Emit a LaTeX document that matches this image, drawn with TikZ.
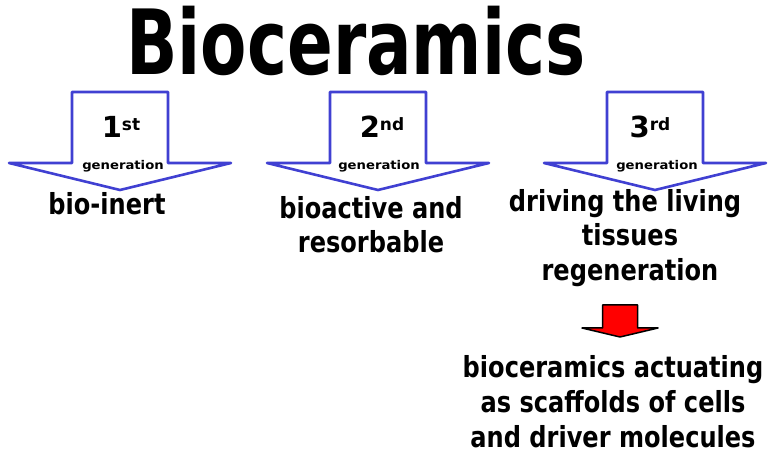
\documentclass[tikz,border=0pt]{standalone}
\usepackage{fontspec}
\setmainfont{DejaVu Sans}
\usepackage{graphicx}
\definecolor{arrowblue}{RGB}{64,64,210}
\definecolor{arrowred}{RGB}{255,0,0}
\newcommand\genshape[2]{%
  \draw[genarrow] ({#1-48},92) -- ({#1+48},92) -- ({#1+48},163) -- ({#1+111},163)
    -- (#1,190) coordinate (#2) -- ({#1-111},163) -- ({#1-48},163) -- cycle;}
\newcommand\bodytext[1]{\scalebox{0.83}[1]{#1}}
\begin{document}
\begin{tikzpicture}[x=1pt,y=-1pt,
  genarrow/.style={draw=arrowblue,line width=2.6pt,fill=white,line join=round},
  redarrow/.style={draw=black,line width=1.5pt,fill=arrowred,line join=round},
  body/.style={font=\bfseries\fontsize{29}{29}\selectfont, inner sep=0pt, anchor=base},
  gen/.style={font=\bfseries\fontsize{12}{12}\selectfont, inner sep=0pt, anchor=base},
  num/.style={font=\bfseries\fontsize{29}{29}\selectfont, inner sep=0pt, anchor=base},
  titlefont/.style={font=\bfseries\fontsize{90}{90}\selectfont, inner sep=0pt, anchor=base}]
\useasboundingbox[fill=white] (0,0) rectangle (769,454);

\node[titlefont] (title) at (356,75) {\scalebox{0.75}[1]{Bioceramics}};

% generation arrows
\genshape{120}{tip1}
\genshape{378}{tip2}
\genshape{655}{tip3}

\node[num] (n1) at (121,138) {1\raisebox{7pt}{\fontsize{17}{17}\selectfont st}};
\node[num] (n2) at (382,138) {2\raisebox{7pt}{\fontsize{17}{17}\selectfont nd}};
\node[num] (n3) at (650,138) {3\raisebox{7pt}{\fontsize{17}{17}\selectfont rd}};

\node[gen] (g1) at (123,170) {\scalebox{1.1}[1]{generation}};
\node[gen] (g2) at (379,170) {\scalebox{1.1}[1]{generation}};
\node[gen] (g3) at (657,170) {\scalebox{1.1}[1]{generation}};

% texts under the arrows
\node[body] (a1) at (107,215) {\bodytext{bio-inert}};
\node[body] (b1) at (371,219) {\bodytext{bioactive and}};
\node[body] (b2) at (371,253) {\bodytext{resorbable}};
\node[body] (c1) at (625,212) {\bodytext{driving the living}};
\node[body] (c2) at (630,246) {\bodytext{tissues}};
\node[body] (c3) at (630,281) {\bodytext{regeneration}};

% red arrow
\draw[redarrow] (602.5,305) -- (637.5,305) -- (637.5,328) -- (658,328) -- (620,337)
  coordinate (redtip) -- (582,328) -- (602.5,328) -- cycle;

\node[body] (d1) at (613,378) {\bodytext{bioceramics actuating}};
\node[body] (d2) at (613,413) {\bodytext{as scaffolds of cells}};
\node[body] (d3) at (613,448) {\bodytext{and driver molecules}};
\end{tikzpicture}
\end{document}
